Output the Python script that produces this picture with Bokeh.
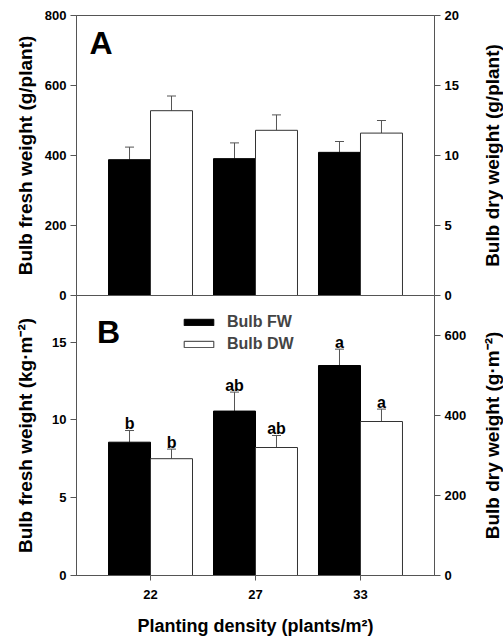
import math
import numpy as np
from bokeh.plotting import figure
from bokeh.models import (Range1d, LinearAxis, FixedTicker, ColumnDataSource, Whisker,
                          TeeHead, Legend, LegendItem, Label)
from bokeh.layouts import column, row
from bokeh.embed import file_html
from bokeh.resources import INLINE
from bokeh.core.properties import value

# ---------------- data ----------------
density = ["22", "27", "33"]
fw_plant = [388, 391, 409]          # g/plant (panel A, left axis)
fw_plant_err = [36, 45, 31]
dw_plant = [13.2, 11.8, 11.6]       # g/plant (panel A, right axis)
dw_plant_err = [1.05, 1.1, 0.9]
fw_area = [8.57, 10.57, 13.5]       # kg/m2 (panel B, left axis)
fw_area_err = [0.75, 1.22, 1.05]
dw_area = [292, 320, 385]           # g/m2 (panel B, right axis)
dw_area_err = [24, 30, 31]
fw_letters = ["b", "ab", "a"]
dw_letters = ["b", "ab", "a"]
left_ticks_a = [0, 200, 400, 600, 800]
right_ticks_a = [0, 5, 10, 15, 20]
left_ticks_b = [0, 5, 10, 15]
right_ticks_b = [0, 200, 400, 600]
left_max_a, right_max_a = 800, 20
left_max_b, right_max_b = 18, 700
right_titles = ["Bulb dry weight (g/plant)", "Bulb dry weight (g\u00b7m\u207b\u00b2)"]

FONT = "Liberation Sans"
AX = "#555555"
W, H = 503, 641
TOP_A, EDGE, BOT_B = 15, 295, 575     # frame edges (px from top)
STRIP = 22                            # width of the right-hand title strip

pos = np.arange(1, len(density) + 1)
xl = pos - 0.2
xr = pos + 0.2


def style_axis(ax, ticks, label, standoff, label_size="19px"):
    ax.ticker = FixedTicker(ticks=[float(t) for t in ticks])
    ax.axis_label = label
    ax.axis_label_text_font = FONT
    ax.axis_label_text_font_style = "bold"
    ax.axis_label_text_font_size = label_size
    ax.axis_label_text_color = "black"
    ax.axis_label_standoff = standoff
    ax.major_label_text_font = FONT
    ax.major_label_text_font_style = "bold"
    ax.major_label_text_font_size = "13px"
    ax.major_label_text_color = "black"
    ax.major_label_standoff = 4
    ax.major_tick_in = 0
    ax.major_tick_out = 6
    ax.minor_tick_in = 0
    ax.minor_tick_out = 0
    ax.axis_line_color = AX
    ax.major_tick_line_color = AX


def right_axis(p, ticks):
    ax = LinearAxis(y_range_name="right")
    style_axis(ax, ticks, "", 0)
    p.add_layout(ax, "right")


def add_whisker(p, x, lo, err, range_name="default"):
    src = ColumnDataSource(dict(x=x, lo=lo, hi=np.add(lo, err)))
    w = Whisker(base="x", lower="lo", upper="hi", source=src,
                upper_head=TeeHead(size=9, line_color=AX, line_width=1),
                lower_head=None, line_color=AX, line_width=1,
                y_range_name=range_name)
    p.add_layout(w)


common = dict(width=W, output_backend="svg", toolbar_location=None,
              min_border_left=76, min_border_right=69,
              x_range=Range1d(0.295, 3.705))

# ---------------- panel A ----------------
p1 = figure(height=EDGE + 10, y_range=Range1d(0, left_max_a), x_axis_location=None,
            min_border_top=TOP_A, min_border_bottom=10, **common)
p1.extra_y_ranges = {"right": Range1d(0, right_max_a)}
p1.grid.visible = False
p1.outline_line_color = AX
p1.border_fill_alpha = 0
style_axis(p1.yaxis[0], left_ticks_a, "Bulb fresh weight (g/plant)", 6)
right_axis(p1, right_ticks_a)

p1.vbar(x=xl, top=fw_plant, width=0.4, fill_color="black", line_color="black")
p1.vbar(x=xr, top=dw_plant, width=0.4, fill_color="white", line_color="#333333",
        y_range_name="right")
add_whisker(p1, xl, fw_plant, fw_plant_err)
add_whisker(p1, xr, dw_plant, dw_plant_err, "right")
p1.add_layout(Label(x=0.42, y=671, text="A", text_font=FONT, text_font_style="bold",
                    text_font_size="32px", text_color="black"))

# ---------------- panel B ----------------
p2 = figure(height=H - EDGE, y_range=Range1d(0, left_max_b),
            min_border_top=0, min_border_bottom=H - BOT_B, **common)
p2.margin = (-10, 0, 0, 0)   # shared edge with panel A
p2.border_fill_alpha = 0
p2.extra_y_ranges = {"right": Range1d(0, right_max_b)}
p2.grid.visible = False
p2.outline_line_color = AX
style_axis(p2.yaxis[0], left_ticks_b, "Bulb fresh weight (kg\u00b7m\u207b\u00b2)", 13)
right_axis(p2, right_ticks_b)
xa = p2.xaxis[0]
style_axis(xa, list(pos), "Planting density (plants/m\u00b2)", 14, label_size="18px")
xa.major_tick_out = 5
xa.major_label_standoff = 9
xa.major_label_overrides = {int(p): d for p, d in zip(pos, density)}

r_fw = p2.vbar(x=xl, top=fw_area, width=0.4, fill_color="black", line_color="black")
r_dw = p2.vbar(x=xr, top=dw_area, width=0.4, fill_color="white", line_color="#333333",
               y_range_name="right")
add_whisker(p2, xl, fw_area, fw_area_err)
add_whisker(p2, xr, dw_area, dw_area_err, "right")

p2.text(x=xl, y=np.add(fw_area, fw_area_err), text=fw_letters, text_align="center",
        text_baseline="alphabetic", y_offset=-7, text_font=value(FONT),
        text_font_style="bold", text_font_size="16px", text_color="black")
p2.text(x=xr, y=np.add(dw_area, dw_area_err), text=dw_letters, text_align="center",
        text_baseline="alphabetic", y_offset=-7, text_font=value(FONT),
        text_font_style="bold", text_font_size="16px", text_color="black",
        y_range_name="right")

p2.add_layout(Label(x=0.49, y=14.5, text="B", text_font=FONT, text_font_style="bold",
                    text_font_size="32px", text_color="black"))

legend = Legend(items=[LegendItem(label="Bulb FW", renderers=[r_fw]),
                       LegendItem(label="Bulb DW", renderers=[r_dw])],
                location=(104, 221), glyph_width=37, glyph_height=8, label_height=20,
                spacing=2, padding=0, margin=0, border_line_color=None,
                background_fill_alpha=0, label_text_font=FONT,
                label_text_font_style="bold", label_text_font_size="16px",
                label_standoff=10)
p2.add_layout(legend)

# ---------------- right-hand axis titles (bottom-to-top) ----------------
p3 = figure(width=STRIP, height=H, output_backend="svg", toolbar_location=None,
            x_range=Range1d(0, 1), y_range=Range1d(H, 0),
            x_axis_location=None, y_axis_location=None,
            min_border=0, min_border_left=0, min_border_right=0,
            min_border_top=0, min_border_bottom=0)
p3.margin = (0, 0, 0, -STRIP)
p3.grid.visible = False
p3.outline_line_color = None
p3.background_fill_alpha = 0
p3.border_fill_alpha = 0
p3.text(x=[0.5, 0.5], y=[(TOP_A + EDGE) / 2, (EDGE + BOT_B) / 2], text=right_titles,
        angle=math.pi / 2, text_align="center", text_baseline="middle",
        text_font=value(FONT), text_font_style="bold", text_font_size="19px",
        text_color="black")

layout = row(column(p1, p2, spacing=0), p3, spacing=0)
open("out.html", "w").write(file_html(layout, INLINE))
